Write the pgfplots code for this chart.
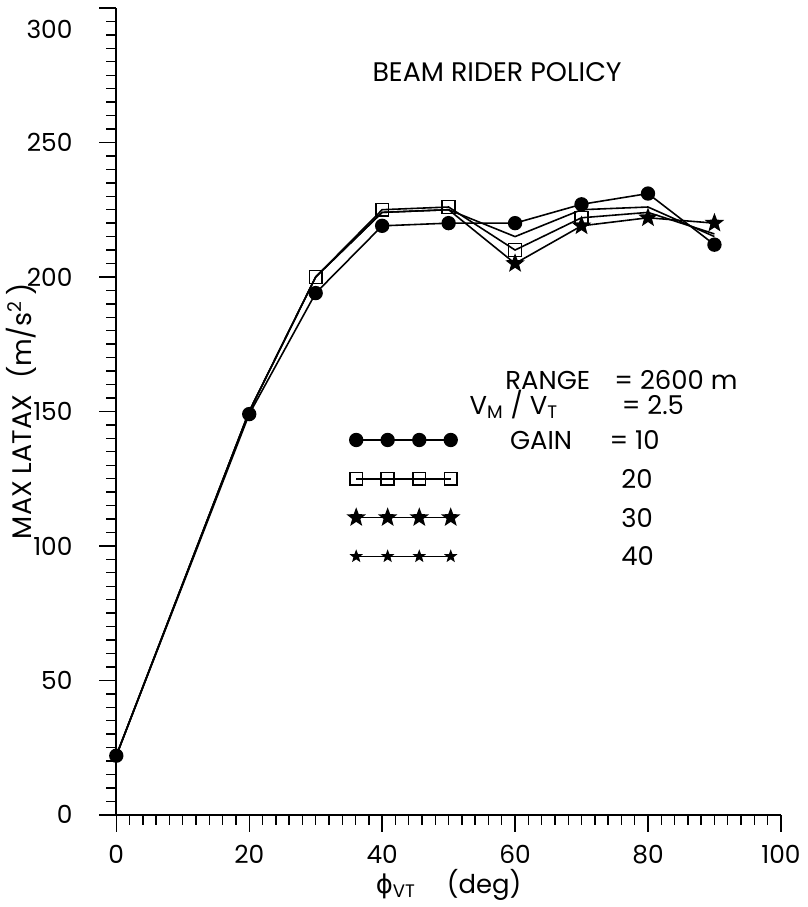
\documentclass[border=0pt]{standalone}
\usepackage{pgfplots}
\pgfplotsset{compat=1.18}
\usepackage{fontspec}
\setmainfont{Poppins}
\newfontfamily\greekfont{DejaVu Sans}

\pgfdeclareplotmark{fstar}{%
  \pgfpathmoveto{\pgfqpointpolar{90}{\pgfplotmarksize}}%
  \pgfpathlineto{\pgfqpointpolar{126}{0.42\pgfplotmarksize}}%
  \pgfpathlineto{\pgfqpointpolar{162}{\pgfplotmarksize}}%
  \pgfpathlineto{\pgfqpointpolar{198}{0.42\pgfplotmarksize}}%
  \pgfpathlineto{\pgfqpointpolar{234}{\pgfplotmarksize}}%
  \pgfpathlineto{\pgfqpointpolar{270}{0.42\pgfplotmarksize}}%
  \pgfpathlineto{\pgfqpointpolar{306}{\pgfplotmarksize}}%
  \pgfpathlineto{\pgfqpointpolar{342}{0.42\pgfplotmarksize}}%
  \pgfpathlineto{\pgfqpointpolar{18}{\pgfplotmarksize}}%
  \pgfpathlineto{\pgfqpointpolar{54}{0.42\pgfplotmarksize}}%
  \pgfpathclose
  \pgfusepathqfillstroke
}

\pgfplotstableread{
x   g10  g20  g30  g40
0   22   22   22   22
20  149  150  150  150
30  194  200  200  200
40  219  225  224  224
50  220  226  225  225
60  220  210  205  215
70  227  222  219  225
80  231  224  222  226
90  212  216  220  215
}\data

\begin{document}
\begin{tikzpicture}
\begin{axis}[
  scale only axis, width=334pt, height=405.5pt,
  xmin=0, xmax=100, ymin=0, ymax=300,
  axis lines=left,
  axis line style={-, line width=0.9pt},
  xtick={0,20,...,100}, ytick={0,50,...,300},
  minor x tick num=9, minor y tick num=9,
  tick align=outside,
  major tick length=8.5pt, minor tick length=5pt,
  tick style={black, line width=0.7pt},
  /pgf/number format/assume math mode=true,
  ticklabel style={font=\fontsize{12.5}{15}\selectfont},
  xticklabel style={yshift=-3pt},
  yticklabel style={xshift=-10pt},
  yticklabel={\ifdim\tick pt>275pt\raisebox{-15.5pt}[0pt][0pt]{\pgfmathprintnumber{\tick}}\else\pgfmathprintnumber{\tick}\fi},
  xlabel={{\greekfont ϕ}\textsubscript{VT}\hspace{1.2em}(deg)},
  xlabel style={font=\fontsize{13}{15}\selectfont, yshift=4pt},
  ylabel={MAX LATAX\hspace{0.6em}(m/s\textsuperscript{2}\,)},
  ylabel style={font=\fontsize{13.5}{15}\selectfont, at={(axis description cs:-0.143,0.5)}, anchor=center, inner sep=1pt},
  every axis plot/.append style={black, line width=0.8pt},
  legend image code/.code={%
    \draw[#1, mark indices={1,2,3,4}] plot coordinates {(0pt,0pt) (15.8pt,0pt) (31.7pt,0pt) (47.5pt,0pt)};},
  legend cell align=left,
  legend style={draw=none, fill=none, at={(axis cs:34.0,146)}, anchor=north west,
    font=\fontsize{13}{15}\selectfont, row sep=6pt, column sep=24pt,
    nodes={text height=9.5pt, text depth=0pt, inner sep=2pt}},
]
\addplot[mark=*, mark size=3.2pt] table[x=x, y=g10] {\data};
\addlegendentry{\makebox[50pt][l]{GAIN}= 10}
\addplot[mark=square, mark size=3.2pt, mark indices={3,4,5,6,7}] table[x=x, y=g20] {\data};
\addlegendentry{\hspace*{56pt}20}
\addplot[mark=fstar, mark size=4pt, mark indices={6,7,8,9}] table[x=x, y=g30] {\data};
\addlegendentry{\hspace*{56pt}30}
\addplot[forget plot] table[x=x, y=g40] {\data};
\addlegendimage{black, line width=0.8pt, mark=fstar, mark size=2.4pt}
\addlegendentry{\hspace*{56pt}40}

\node[font=\fontsize{13.5}{16}\selectfont] at (axis cs:57.3,276) {BEAM RIDER POLICY};
\node[font=\fontsize{13}{15}\selectfont, anchor=base west, inner sep=0pt] at (axis cs:58.5,158) {RANGE};
\node[font=\fontsize{13}{15}\selectfont, anchor=base west, inner sep=0pt] at (axis cs:74.9,158) {= 2600 m};
\node[font=\fontsize{13}{15}\selectfont, anchor=base west, inner sep=0pt] at (axis cs:53.1,149) {V\textsubscript{M} / V\textsubscript{T}};
\node[font=\fontsize{13}{15}\selectfont, anchor=base west, inner sep=0pt] at (axis cs:76,149) {= 2.5};
\coordinate (BBsw) at (axis description cs:-0.175,-0.1085);
\coordinate (BBne) at (axis description cs:1.037,1.0099);
\end{axis}
\path (BBsw) rectangle (BBne);
\end{tikzpicture}
\end{document}
